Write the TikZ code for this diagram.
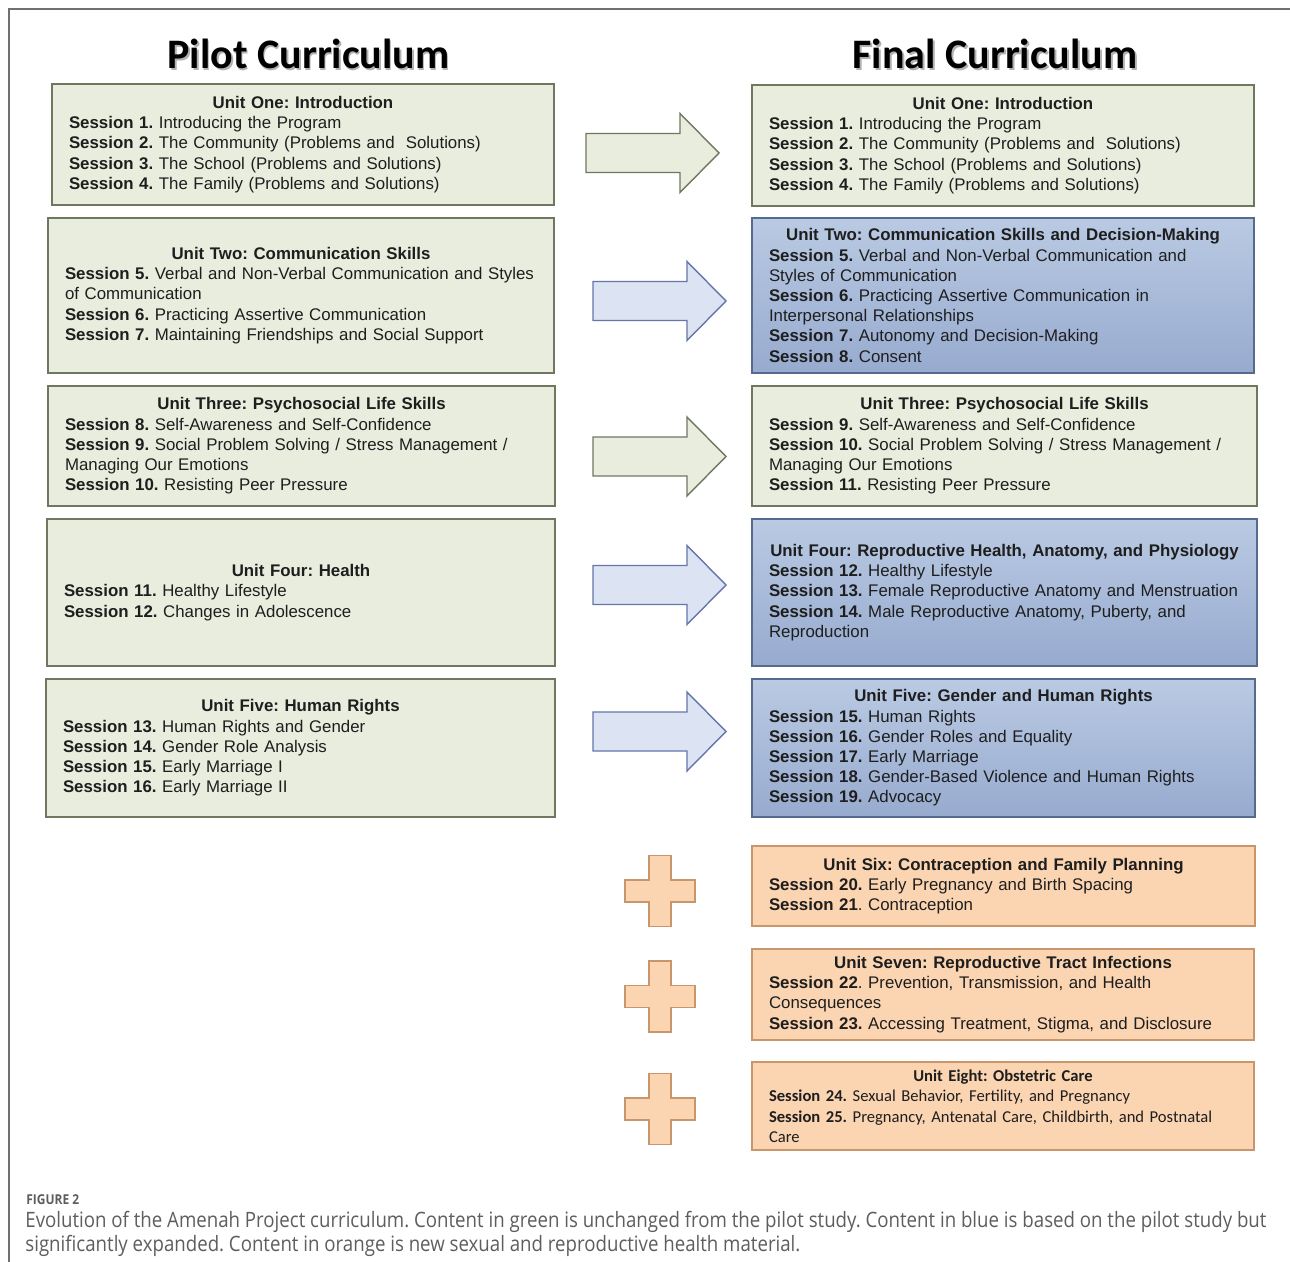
\documentclass[tikz,border=0pt]{standalone}
\usepackage{fontspec}
\newfontfamily\arialfont{Liberation Sans}
\newfontfamily\calfont{Carlito}
\newfontfamily\capfont[FakeStretch=0.88]{Open Sans}
\frenchspacing
\definecolor{greenfill}{HTML}{E8EDDE}
\definecolor{greenline}{HTML}{6F785F}
\definecolor{bluetop}{HTML}{BACAE3}
\definecolor{bluebot}{HTML}{97ABCF}
\definecolor{blueline}{HTML}{56698F}
\definecolor{arrowblue}{HTML}{DCE3F3}
\definecolor{arrowblueline}{HTML}{6577AA}
\definecolor{orangefill}{HTML}{FBD4B2}
\definecolor{orangeline}{HTML}{C9956A}
\definecolor{boxtext}{HTML}{1E1E1E}
\definecolor{captext}{HTML}{5E5E5E}
\definecolor{framegray}{HTML}{707070}
\tikzset{
  unitbox/.style={draw, rectangle, inner xsep=2pt, inner ysep=0pt, align=left,
    text=boxtext, font=\arialfont\fontsize{8.42}{10.1}\selectfont},
  greenbox/.style={unitbox, fill=greenfill, draw=greenline, line width=1.1pt},
  bluebox/.style={unitbox, top color=bluetop, bottom color=bluebot, draw=blueline, line width=0.9pt},
  orangebox/.style={unitbox, fill=orangefill, draw=orangeline, line width=0.7pt},
  title/.style={font=\calfont\bfseries\fontsize{21}{24}\selectfont, text=black},
  titleshadow/.style={title, text=black!30},
  greenarrow/.style={fill=greenfill, draw=greenline, line width=0.7pt, line join=miter},
  bluearrow/.style={fill=arrowblue, draw=arrowblueline, line width=0.7pt, line join=miter},
  plusshape/.style={fill=orangefill, draw=orangeline, line width=0.7pt},
  captionline/.style={anchor=base west, inner sep=0pt, text=captext, font=\capfont\fontsize{10.6}{12}\selectfont}
}
\newcommand\unithead[1]{{\centering\bfseries #1\par}\leftskip=6.5pt\relax}
\newcommand\sess[1]{\textbf{Session #1.}}
% block arrow, tip at (#1,#2)
\newcommand\fatarrow[3]{%
  \draw[#3] (#1,#2) -- ++(-39,-39.5) -- ++(0,20) -- ++(-94,0) -- ++(0,39)
    -- ++(94,0) -- ++(0,20) -- cycle;}
% plus sign, centred at (#1,#2)
\newcommand\plussign[2]{%
  \draw[plusshape] (#1,#2) ++(-11,-35.5) -- ++(22,0) -- ++(0,24.5) -- ++(24,0)
    -- ++(0,22) -- ++(-24,0) -- ++(0,24.5) -- ++(-22,0) -- ++(0,-24.5)
    -- ++(-24,0) -- ++(0,-22) -- ++(24,0) -- cycle;}

\begin{document}
\begin{tikzpicture}[x=0.5pt, y=-0.5pt]
  \useasboundingbox (0,0) rectangle (1290,1262);
  \fill[white] (0,0) rectangle (1290,1262);
  \draw[framegray, line width=0.6pt] (9,1262) -- (9,9) -- (1290,9);

  % titles
  \node[titleshadow] at (310,56) {Pilot Curriculum};
  \node[title] (pilot) at (308.5,54) {Pilot Curriculum};
  \node[titleshadow] at (997,56) {Final Curriculum};
  \node[title] (final) at (995,54) {Final Curriculum};

  % pilot curriculum
  \node[greenbox, minimum width=251pt, minimum height=60.5pt, text width=247pt] (p1) at (303,144.5) {%
    \unithead{Unit One: Introduction}
    \sess{1} Introducing the Program\\
    \sess{2} The Community (Problems and \ Solutions)\\
    \sess{3} The School (Problems and Solutions)\\
    \sess{4} The Family (Problems and Solutions)\par};
  \node[greenbox, minimum width=253pt, minimum height=77.5pt, text width=249pt] (p2) at (301,295.5) {%
    \unithead{Unit Two: Communication Skills}
    \sess{5} Verbal and Non-Verbal Communication and Styles\\
    of Communication\\
    \sess{6} Practicing Assertive Communication\\
    \sess{7} Maintaining Friendships and Social Support\par};
  \node[greenbox, minimum width=253.5pt, minimum height=60pt, text width=249.5pt] (p3) at (301.5,446) {%
    \unithead{Unit Three: Psychosocial Life Skills}
    \sess{8} Self-Awareness and Self-Confidence\\
    \sess{9} Social Problem Solving / Stress Management /\\
    Managing Our Emotions\\
    \sess{10} Resisting Peer Pressure\par};
  \node[greenbox, minimum width=254pt, minimum height=73.5pt, text width=250pt] (p4) at (301,592.5) {%
    \unithead{Unit Four: Health}
    \sess{11} Healthy Lifestyle\\
    \sess{12} Changes in Adolescence\par};
  \node[greenbox, minimum width=254.5pt, minimum height=69pt, text width=250.5pt] (p5) at (300.5,748) {%
    \unithead{Unit Five: Human Rights}
    \sess{13} Human Rights and Gender\\
    \sess{14} Gender Role Analysis\\
    \sess{15} Early Marriage I\\
    \sess{16} Early Marriage II\par};

  % final curriculum
  \node[greenbox, minimum width=251pt, minimum height=60.5pt, text width=247pt] (f1) at (1003,145.5) {%
    \unithead{Unit One: Introduction}
    \sess{1} Introducing the Program\\
    \sess{2} The Community (Problems and \ Solutions)\\
    \sess{3} The School (Problems and Solutions)\\
    \sess{4} The Family (Problems and Solutions)\par};
  \node[bluebox, minimum width=251pt, minimum height=77.5pt, text width=247pt] (f2) at (1003,295.5) {%
    \unithead{Unit Two: Communication Skills and Decision-Making}
    \sess{5} Verbal and Non-Verbal Communication and\\
    Styles of Communication\\
    \sess{6} Practicing Assertive Communication in\\
    Interpersonal Relationships\\
    \sess{7} Autonomy and Decision-Making\\
    \sess{8} Consent\par};
  \node[greenbox, minimum width=252.5pt, minimum height=60pt, text width=248.5pt] (f3) at (1004.5,446) {%
    \unithead{Unit Three: Psychosocial Life Skills}
    \sess{9} Self-Awareness and Self-Confidence\\
    \sess{10} Social Problem Solving / Stress Management /\\
    Managing Our Emotions\\
    \sess{11} Resisting Peer Pressure\par};
  \node[bluebox, minimum width=252.5pt, minimum height=73.5pt, text width=248.5pt] (f4) at (1004.5,592.5) {%
    \unithead{Unit Four: Reproductive Health, Anatomy, and Physiology}
    \sess{12} Healthy Lifestyle\\
    \sess{13} Female Reproductive Anatomy and Menstruation\\
    \sess{14} Male Reproductive Anatomy, Puberty, and\\
    Reproduction\par};
  \node[bluebox, minimum width=251.5pt, minimum height=69pt, text width=247.5pt] (f5) at (1003.5,748) {%
    \unithead{Unit Five: Gender and Human Rights}
    \sess{15} Human Rights\\
    \sess{16} Gender Roles and Equality\\
    \sess{17} Early Marriage\\
    \sess{18} Gender-Based Violence and Human Rights\\
    \sess{19} Advocacy\par};
  \node[orangebox, minimum width=251.5pt, minimum height=40pt, text width=247.5pt] (f6) at (1003.5,886) {%
    \unithead{Unit Six: Contraception and Family Planning}
    \sess{20} Early Pregnancy and Birth Spacing\\
    \textbf{Session 21}. Contraception\par};
  \node[orangebox, minimum width=251pt, minimum height=45.5pt, text width=247pt] (f7) at (1003,994.5) {%
    \unithead{Unit Seven: Reproductive Tract Infections}
    \textbf{Session 22}. Prevention, Transmission, and Health\\
    Consequences\\
    \sess{23} Accessing Treatment, Stigma, and Disclosure\par};
  \node[orangebox, minimum width=251pt, minimum height=44pt, text width=247pt,
    font=\calfont\fontsize{8.3}{10.25}\selectfont] (f8) at (1003,1106) {%
    \unithead{Unit Eight: Obstetric Care}
    \sess{24} Sexual Behavior, Fertility, and Pregnancy\\
    \sess{25} Pregnancy, Antenatal Care, Childbirth, and Postnatal\\
    Care\par};

  % arrows and plus signs
  \fatarrow{719}{153}{greenarrow}
  \fatarrow{726}{301}{bluearrow}
  \fatarrow{726}{456.5}{greenarrow}
  \fatarrow{726}{585}{bluearrow}
  \fatarrow{726}{731.5}{bluearrow}
  \plussign{660}{891}
  \plussign{660}{996.5}
  \plussign{660}{1109}

  % caption
  \node[captionline, font=\capfont\bfseries\fontsize{6.8}{9}\selectfont] (fig) at (26,1204) {FIGURE 2};
  \node[captionline] (cap1) at (25,1227) {Evolution of the Amenah Project curriculum. Content in green is unchanged from the pilot study. Content in blue is based on the pilot study but};
  \node[captionline] (cap2) at (25,1251) {significantly expanded. Content in orange is new sexual and reproductive health material.};
\end{tikzpicture}
\end{document}
